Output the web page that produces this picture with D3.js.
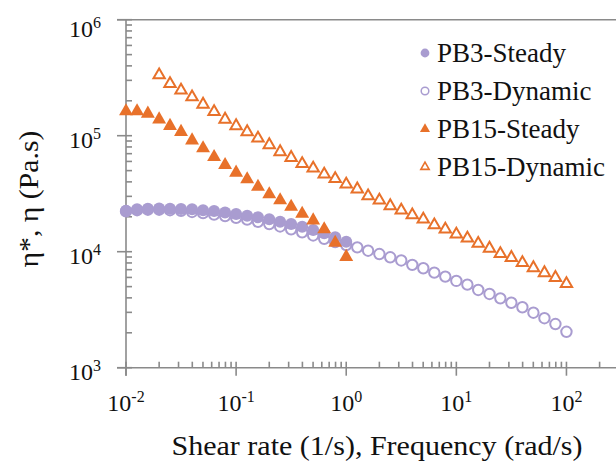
<!DOCTYPE html>
<html><head><meta charset="utf-8">
<script src="https://cdn.jsdelivr.net/npm/d3@7"></script>
<style>body{margin:0;background:#fff;} svg{display:block;}</style>
</head><body>
<svg id="c" width="616" height="463"></svg>
<script>
const rateSteady = [0.01,0.0126,0.0158,0.02,0.0251,0.0316,0.0398,0.0501,0.0631,0.0794,0.1,0.126,0.158,0.2,0.251,0.316,0.398,0.501,0.631,0.794,1];
const freqPB3 = [0.01,0.0126,0.0158,0.02,0.0251,0.0316,0.0398,0.0501,0.0631,0.0794,0.1,0.126,0.158,0.2,0.251,0.316,0.398,0.501,0.631,0.794,1,1.26,1.58,2,2.51,3.16,3.98,5.01,6.31,7.94,10,12.6,15.8,20,25.1,31.6,39.8,50.1,63.1,79.4,100];
const freqPB15 = [0.02,0.0251,0.0316,0.0398,0.0501,0.0631,0.0794,0.1,0.126,0.158,0.2,0.251,0.316,0.398,0.501,0.631,0.794,1,1.26,1.58,2,2.51,3.16,3.98,5.01,6.31,7.94,10,12.6,15.8,20,25.1,31.6,39.8,50.1,63.1,79.4,100];
const pb3Steady = [22500,23200,23500,23600,23500,23300,23200,22800,22400,21800,21100,20400,19800,19000,18100,17300,16400,15400,14400,13300,12200];
const pb3Dynamic = [22300,22800,23000,23000,22800,22500,22000,21500,20900,20300,19600,18900,18100,17300,16500,15600,14700,13800,12900,12100,11400,10900,10200,9550,8950,8400,7700,7200,6600,6100,5600,5200,4680,4320,3960,3630,3320,2980,2670,2380,2040];
const pb15Steady = [166000,166000,158000,141000,124000,110000,93000,79400,66800,57000,49000,43000,37000,31900,28300,24900,21700,19000,15900,12200,9200];
const pb15Dynamic = [340000,286000,251000,220000,190000,164000,141000,124000,110000,97000,85000,74000,66000,58500,53400,47400,43400,38900,35300,30800,28300,25300,23200,21100,19400,17300,15900,14400,13300,12000,10900,9800,9060,8200,7400,6700,6100,5400];
const xTickExp = [-2,-1,0,1,2];
const yTickExp = [3,4,5,6];
const legendNames = ["PB3-Steady","PB3-Dynamic","PB15-Steady","PB15-Dynamic"];

const purple = "#a99cd0", orange = "#e8712a", axisCol = "#8a8a8a";
const font = "'Liberation Serif', 'Times New Roman', serif";
const svg = d3.select("#c");
const x = d3.scaleLog().domain([0.01, Math.pow(10,2.45)]).range([126, 616]);
const y = d3.scaleLog().domain([1000, 1e6]).range([367.7, 19.7]);

// axes
const ax = svg.append("g").attr("stroke", axisCol).attr("stroke-width", 1.6).attr("fill","none");
ax.append("line").attr("x1", x(0.01)).attr("x2", x(0.01)).attr("y1", y(1e6)).attr("y2", y(1000)+8);
ax.append("line").attr("x1", x(0.01)-9).attr("x2", 616).attr("y1", y(1000)).attr("y2", y(1000));
ax.append("line").attr("x1", x(0.01)-9).attr("x2", 616).attr("y1", y(1e6)).attr("y2", y(1e6));
// y ticks
yTickExp.forEach(e => {
  const v = Math.pow(10,e);
  ax.append("line").attr("x1", x(0.01)-9).attr("x2", x(0.01)+6).attr("y1", y(v)).attr("y2", y(v));
  if (e < 6) for (let k=2;k<=9;k++){
    const yy = y(k*v);
    ax.append("line").attr("x1", x(0.01)).attr("x2", x(0.01)+6).attr("y1", yy).attr("y2", yy);
  }
});
// x ticks
xTickExp.concat([3]).forEach(e => {
  const v = Math.pow(10,e);
  if (x(v) <= 616) ax.append("line").attr("x1", x(v)).attr("x2", x(v)).attr("y1", y(1000)-6).attr("y2", y(1000)+8);
  for (let k=2;k<=9;k++){
    const xx = x(k*v);
    if (xx < 616) ax.append("line").attr("x1", xx).attr("x2", xx).attr("y1", y(1000)-6).attr("y2", y(1000));
  }
});

// tick labels
const tl = svg.append("g").attr("font-family", font).attr("fill","#111");
xTickExp.forEach(e => {
  const t = tl.append("text").attr("x", x(Math.pow(10,e))).attr("y", 411).attr("text-anchor","middle").attr("font-size",24);
  t.append("tspan").text("10");
  t.append("tspan").attr("dy",-9).attr("font-size",16).text(String(e));
});
yTickExp.forEach(e => {
  const yy = Math.max(y(Math.pow(10,e)) + 12, 37);
  const t = tl.append("text").attr("x", 101).attr("y", yy).attr("text-anchor","end").attr("font-size",24);
  t.append("tspan").text("10");
  t.append("tspan").attr("dy",-9).attr("font-size",16).text(String(e));
});

// titles
tl.append("text").attr("x", 377).attr("y", 455).attr("text-anchor","middle").attr("font-size",27)
  .attr("textLength",411).attr("lengthAdjust","spacingAndGlyphs")
  .text("Shear rate (1/s), Frequency (rad/s)");
tl.append("text").attr("transform","translate(38,199) rotate(-90)").attr("text-anchor","middle").attr("font-size",28)
  .attr("textLength",137).attr("lengthAdjust","spacingAndGlyphs")
  .text("η*, η (Pa.s)");

// marks
const tri = d3.symbol().type(d3.symbolTriangle);
function triPath(s){ return tri.size(s)(); }
const g = svg.append("g");
g.selectAll(".p3d").data(freqPB3.map((f,i)=>[f,pb3Dynamic[i]])).join("circle")
  .attr("cx", d=>x(d[0])).attr("cy", d=>y(d[1])).attr("r",5.2)
  .attr("fill","#fff").attr("stroke",purple).attr("stroke-width",2);
g.selectAll(".p3s").data(rateSteady.map((f,i)=>[f,pb3Steady[i]])).join("circle")
  .attr("cx", d=>x(d[0])).attr("cy", d=>y(d[1])).attr("r",6).attr("fill",purple);
g.selectAll(".p15d").data(freqPB15.map((f,i)=>[f,pb15Dynamic[i]])).join("path")
  .attr("transform", d=>`translate(${x(d[0])},${y(d[1])+1})`).attr("d", triPath(56))
  .attr("fill","#fff").attr("stroke",orange).attr("stroke-width",2);
g.selectAll(".p15s").data(rateSteady.map((f,i)=>[f,pb15Steady[i]])).join("path")
  .attr("transform", d=>`translate(${x(d[0])},${y(d[1])+1})`).attr("d", triPath(84))
  .attr("fill",orange);

// legend
const lg = svg.append("g").attr("font-family", font);
legendNames.forEach((n,i) => {
  const ly = 53 + i*38;
  const m = lg.append("g").attr("transform", `translate(425,${ly})`);
  if (i===0) m.append("circle").attr("r",4.4).attr("fill",purple);
  if (i===1) m.append("circle").attr("r",3.8).attr("fill","#fff").attr("stroke",purple).attr("stroke-width",1.5);
  if (i===2) m.append("path").attr("d",triPath(44)).attr("fill",orange);
  if (i===3) m.append("path").attr("d",triPath(30)).attr("fill","#fff").attr("stroke",orange).attr("stroke-width",1.6);
  lg.append("text").attr("x",437).attr("y",ly+9).attr("font-size",27).attr("fill","#111").text(n);
});
</script>
</body></html>
